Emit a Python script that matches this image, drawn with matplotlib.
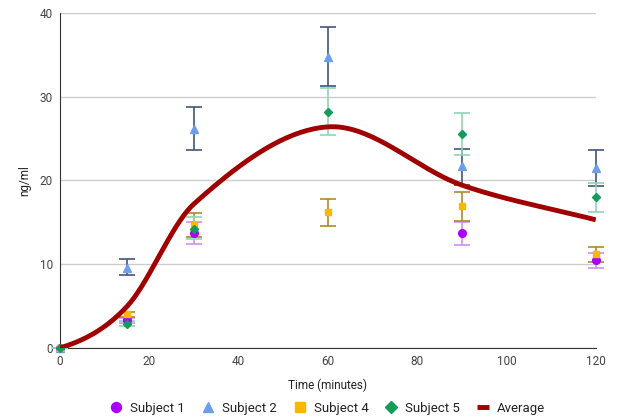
import matplotlib
matplotlib.use('Agg')
import matplotlib.pyplot as plt
import numpy as np

plt.rcParams['font.family'] = ['Roboto', 'DejaVu Sans']

times = [0, 15, 30, 60, 90, 120]

subj1 = [0, 3.3, 13.7, None, 13.7, 10.5]
subj1_lo = [0, 3.0, 12.4, None, 12.3, 9.5]
subj1_hi = [0, 3.6, 15.0, None, 15.1, 11.4]

subj2 = [0, 9.6, 26.2, 34.8, 21.7, 21.5]
subj2_lo = [0, 8.7, 23.6, 31.3, 19.5, 19.3]
subj2_hi = [0, 10.6, 28.8, 38.3, 23.8, 23.6]

subj4 = [0, 4.0, 14.7, 16.2, 16.9, 11.2]
subj4_lo = [0, 3.7, 13.3, 14.6, 15.2, 10.3]
subj4_hi = [0, 4.3, 16.1, 17.8, 18.6, 12.1]

subj5 = [0, 2.9, 14.2, 28.2, 25.5, 18.0]
subj5_lo = [0, 2.6, 13.0, 25.4, 23.0, 16.2]
subj5_hi = [0, 3.2, 15.6, 31.0, 28.0, 19.7]

average = [0, 4.95, 17.2, 26.4, 19.45, 15.3]

series = [
    ('Subject 1', subj1, subj1_lo, subj1_hi, 'o', '#aa00ff', '#cf8ff5', 5.5),
    ('Subject 2', subj2, subj2_lo, subj2_hi, '^', '#6d9eeb', '#44557a', 5.5),
    ('Subject 4', subj4, subj4_lo, subj4_hi, 's', '#f9b700', '#b08a2a', 5),
    ('Subject 5', subj5, subj5_lo, subj5_hi, 'D', '#0f9d58', '#8fd6b5', 4.5),
]


def smooth(x, y, n=40):
    # cubic hermite with catmull-rom style tangents
    x = np.asarray(x, float)
    y = np.asarray(y, float)
    m = np.zeros_like(y)
    m[1:-1] = (y[2:] - y[:-2]) / (x[2:] - x[:-2])
    m[0] = (y[1] - y[0]) / (x[1] - x[0]) * 0.5
    m[-1] = (y[-1] - y[-2]) / (x[-1] - x[-2])
    xs, ys = [], []
    for i in range(len(x) - 1):
        h = x[i + 1] - x[i]
        t = np.linspace(0, 1, n)
        h00 = 2 * t**3 - 3 * t**2 + 1
        h10 = t**3 - 2 * t**2 + t
        h01 = -2 * t**3 + 3 * t**2
        h11 = t**3 - t**2
        xs.append(x[i] + t * h)
        ys.append(h00 * y[i] + h10 * h * m[i] + h01 * y[i + 1] + h11 * h * m[i + 1])
    return np.concatenate(xs), np.concatenate(ys)


fig = plt.figure(figsize=(6.18, 4.18), dpi=100)
ax = fig.add_axes([0.097, 0.1675, 0.867, 0.8015])

for name, vals, lo, hi, mk, col, ecol, ms in series:
    xs = [t for t, v in zip(times, vals) if v is not None]
    vs = [v for v in vals if v is not None]
    los = [l for l in lo if l is not None]
    his = [h for h in hi if h is not None]
    err = [np.array(vs) - np.array(los), np.array(his) - np.array(vs)]
    eb = ax.errorbar(xs, vs, yerr=err, fmt='none', ecolor=ecol, elinewidth=1.2,
                     capsize=6, capthick=1.2, zorder=3)
    for art in eb.lines[1] + eb.lines[2]:
        art.set_clip_on(False)
    ax.plot(xs, vs, linestyle='none', marker=mk, color=col, markersize=ms,
            label=name, zorder=4, clip_on=False)

sx, sy = smooth(times, average)
ax.plot(sx, sy, color='#a00000', linewidth=3.5, label='Average', zorder=5,
        solid_capstyle='butt')

ax.set_xlim(0, 120)
ax.set_ylim(0, 40)
ax.set_xticks([0, 20, 40, 60, 80, 100, 120])
ax.set_yticks([0, 10, 20, 30, 40])
ax.grid(axis='y', color='#cccccc', linewidth=1)
ax.set_axisbelow(True)
for s in ['top', 'right']:
    ax.spines[s].set_visible(False)
ax.spines['left'].set_color('#333333')
ax.spines['bottom'].set_color('#333333')
ax.tick_params(length=0, labelsize=8.5, colors='#444444', pad=5)
ax.set_xlabel('Time (minutes)', fontsize=8.5, color='#222222', labelpad=8)
ax.set_ylabel('ng/ml', fontsize=8.5, color='#222222', labelpad=6)

ax.legend(loc='center', bbox_to_anchor=(0.5, -0.18), ncol=5,
          frameon=False, fontsize=9.5, handlelength=0.9, columnspacing=1.3,
          handletextpad=0.6, labelcolor='#222222', borderpad=0.2,
          markerscale=1.3)

plt.savefig('out.png', dpi=100)
